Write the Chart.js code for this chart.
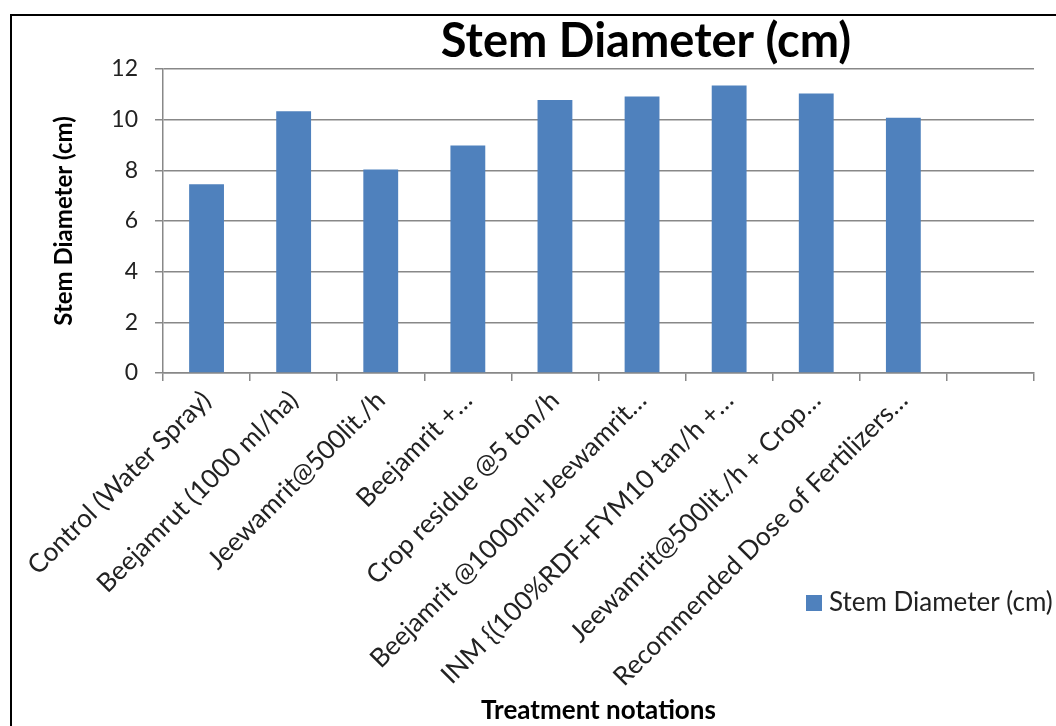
<!DOCTYPE html>
<html>
<head>
<meta charset="utf-8">
<script src="https://cdn.jsdelivr.net/npm/chart.js@4"></script>
<style>
  html, body { margin: 0; padding: 0; background: #fff; }
  #wrap { width: 1056px; height: 726px; }
</style>
</head>
<body>
<div id="wrap"><canvas id="graphique" width="1056" height="726"></canvas></div>
<script>
let treatments = [
    "Control (Water Spray)",
    "Beejamrut (1000 ml/ha)",
    "Jeewamrit@500lit./h",
    "Beejamrit +…",
    "Crop residue @5 ton/h",
    "Beejamrit @1000ml+Jeewamrit…",
    "INM {(100%RDF+FYM10 tan/h +…",
    "Jeewamrit@500lit./h + Crop…",
    "Recommended Dose of Fertilizers…",
    ""
]
let stemDiameter = [7.45, 10.33, 8.03, 8.98, 10.78, 10.91, 11.35, 11.03, 10.08, null]
let yTicks = [0, 2, 4, 6, 8, 10, 12]

let seriesName = "Stem Diameter (cm)"
let chartTitle = "Stem Diameter (cm)"
let xTitle = "Treatment notations"
let yTitle = "Stem Diameter (cm)"

const FONT = "Lato, 'Open Sans', sans-serif"

// cadre, titre et légende dessinés à la main (position libre comme dans Excel)
const decor = {
    id: "decor",
    beforeDraw(chart) {
        let ctx = chart.ctx
        ctx.save()
        ctx.fillStyle = "#fff"
        ctx.fillRect(0, 0, chart.width, chart.height)
        ctx.strokeStyle = "#000"
        ctx.lineWidth = 2
        ctx.beginPath()
        ctx.moveTo(11, chart.height + 2)
        ctx.lineTo(11, 15)
        ctx.lineTo(chart.width + 2, 15)
        ctx.stroke()
        ctx.restore()
    },
    afterDraw(chart) {
        let ctx = chart.ctx
        ctx.save()
        ctx.fillStyle = "#000"
        ctx.font = "bold 47px " + FONT
        ctx.textAlign = "center"
        ctx.textBaseline = "alphabetic"
        ctx.fillText(chartTitle, 646, 57)

        let ds = chart.data.datasets[0]
        ctx.fillStyle = ds.backgroundColor
        ctx.fillRect(806, 595, 16, 16)
        ctx.fillStyle = "#222"
        ctx.font = "26px " + FONT
        ctx.textAlign = "left"
        ctx.textBaseline = "middle"
        ctx.fillText(ds.label, 829, 603)
        ctx.restore()
    }
}

const cvs = document.getElementById("graphique")
new Chart(cvs, {
    type: "bar",
    data: {
        labels: treatments,
        datasets: [{
            label: seriesName,
            data: stemDiameter,
            backgroundColor: "#4F81BD",
            borderWidth: 0,
            categoryPercentage: 1,
            barPercentage: 0.4
        }]
    },
    options: {
        responsive: false,
        animation: false,
        layout: { padding: { left: 40, top: 69, right: 22, bottom: 0 } },
        plugins: {
            legend: { display: false },
            title: { display: false },
            tooltip: { enabled: false }
        },
        scales: {
            x: {
                offset: true,
                afterFit: function (scale) { scale.height = 353 },
                grid: {
                    offset: true,
                    drawOnChartArea: false,
                    drawTicks: true,
                    tickLength: 8,
                    color: "#888",
                    lineWidth: 1.5
                },
                border: { color: "#888", width: 1.5 },
                ticks: {
                    autoSkip: false,
                    minRotation: 45,
                    maxRotation: 45,
                    padding: 4,
                    color: "#222",
                    font: { family: FONT, size: 26 }
                },
                title: {
                    display: true,
                    text: xTitle,
                    color: "#000",
                    font: { family: FONT, size: 26, weight: "bold" },
                    padding: { top: 0, bottom: 0 }
                }
            },
            y: {
                min: 0,
                max: 12,
                afterFit: function (scale) { scale.width = 123 },
                afterBuildTicks: function (scale) {
                    scale.ticks = yTicks.map(v => ({ value: v }))
                },
                grid: {
                    color: "#888",
                    lineWidth: 1.5,
                    drawTicks: true,
                    tickLength: 8
                },
                border: { color: "#888", width: 1.5 },
                ticks: {
                    padding: 17,
                    color: "#222",
                    font: { family: FONT, size: 23 }
                },
                title: {
                    display: true,
                    text: yTitle,
                    color: "#000",
                    font: { family: FONT, size: 24, weight: "bold" },
                    padding: { top: 10, bottom: 0 }
                }
            }
        }
    },
    plugins: [decor]
})
</script>
</body>
</html>
